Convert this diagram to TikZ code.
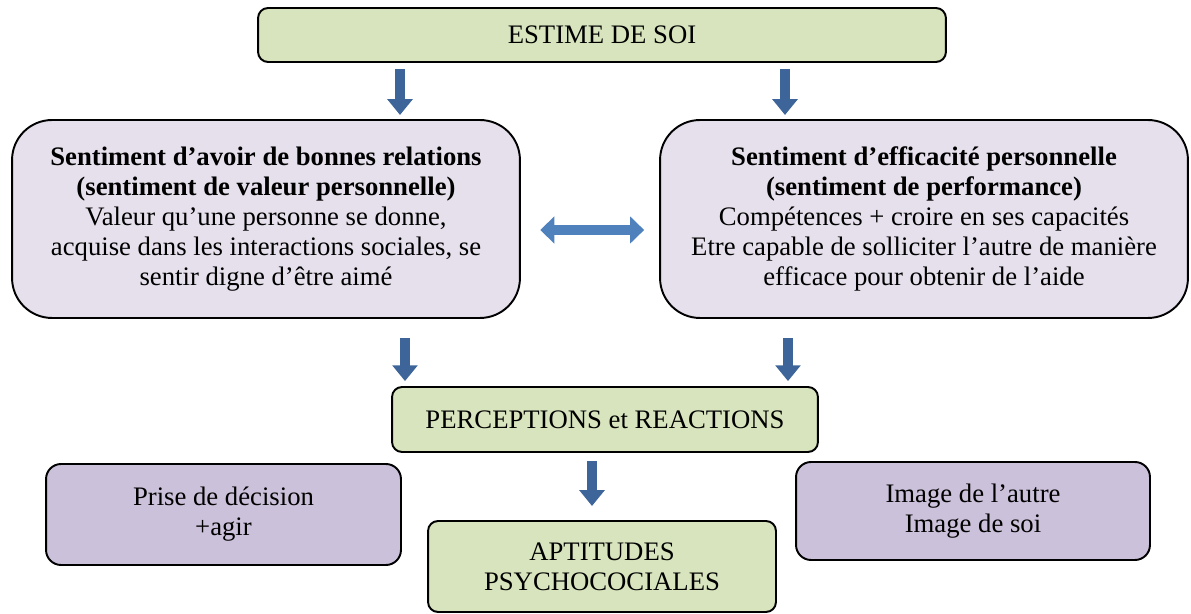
\documentclass[tikz,border=0pt]{standalone}
\usepackage{fontspec}
\setmainfont{Liberation Serif}
\usetikzlibrary{arrows.meta}
\definecolor{boxgreen}{RGB}{215,228,189}
\definecolor{boxlav}{RGB}{230,224,236}
\definecolor{boxpurple}{RGB}{204,193,218}
\definecolor{arrowblue}{RGB}{61,101,153}
\definecolor{lightblue}{RGB}{79,129,189}
\tikzset{
  box/.style={draw=black,line width=1.1pt,align=center,inner sep=0pt,font=\fontsize{15.2}{17}\selectfont},
  greenbox/.style={box,fill=boxgreen,rounded corners=0.2cm},
  lavbox/.style={box,fill=boxlav,rounded corners=0.8cm},
  purplebox/.style={box,fill=boxpurple,rounded corners=0.3cm},
  downarrow/.style={arrowblue,line width=5.6pt,-{Triangle[width=14pt,length=9pt]}},
  botharrow/.style={lightblue,line width=5.6pt,{Triangle[width=15pt,length=8pt]}-{Triangle[width=15pt,length=8pt]}}
}
\begin{document}
\begin{tikzpicture}[x=0.02cm,y=-0.02cm]
    \useasboundingbox (0,0) rectangle (1191,614);
    % top
    \node[greenbox,minimum width=13.76cm,minimum height=1.08cm] (estime) at (602,35) {ESTIME DE SOI};
    % the two feelings
    \node[lavbox,minimum width=10.16cm,minimum height=3.96cm] (relations) at (266,219)
      {\textbf{Sentiment d’avoir de bonnes relations}\\ \textbf{(sentiment de valeur personnelle)}\\ Valeur qu’une personne se donne,\\ acquise dans les interactions sociales, se\\ sentir digne d’être aimé};
    \node[lavbox,minimum width=10.56cm,minimum height=3.96cm] (efficacite) at (924,219)
      {\textbf{Sentiment d’efficacité personnelle}\\ \textbf{(sentiment de performance)}\\ Compétences + croire en ses capacités\\ Etre capable de solliciter l’autre de manière\\ efficace pour obtenir de l’aide};
    % middle and bottom
    \node[greenbox,minimum width=8.52cm,minimum height=1.3cm] (perceptions) at (605,419.5) {PERCEPTIONS et REACTIONS};
    \node[purplebox,minimum width=7.1cm,minimum height=2.02cm] (decision) at (223.5,514.5) {Prise de décision\\ +agir};
    \node[purplebox,minimum width=7.08cm,minimum height=1.96cm] (image) at (973,511) {Image de l’autre\\ Image de soi};
    \node[greenbox,minimum width=6.96cm,minimum height=1.82cm] (aptitudes) at (602,566.5) {APTITUDES\\ PSYCHOCOCIALES};
    % arrow columns
    \coordinate (c1) at (400,0);
    \coordinate (c2) at (785,0);
    \coordinate (c3) at (405,0);
    \coordinate (c4) at (788,0);
    \coordinate (c5) at (592,0);
    \coordinate (r1) at (0,230);
    \draw[downarrow,shorten <=3.4pt,shorten >=2.3pt] (estime.south -| c1) -- (relations.north -| c1);
    \draw[downarrow,shorten <=3.4pt,shorten >=2.3pt] (estime.south -| c2) -- (efficacite.north -| c2);
    \draw[downarrow,shorten <=11pt,shorten >=2.8pt] (relations.south -| c3) -- (perceptions.north -| c3);
    \draw[downarrow,shorten <=11pt,shorten >=2.8pt] (efficacite.south -| c4) -- (perceptions.north -| c4);
    \draw[downarrow,shorten <=4.5pt,shorten >=8pt] (perceptions.south -| c5) -- (aptitudes.north -| c5);
    \draw[botharrow,shorten <=11pt,shorten >=8.5pt] (relations.east |- r1) -- (efficacite.west |- r1);
\end{tikzpicture}
\end{document}
